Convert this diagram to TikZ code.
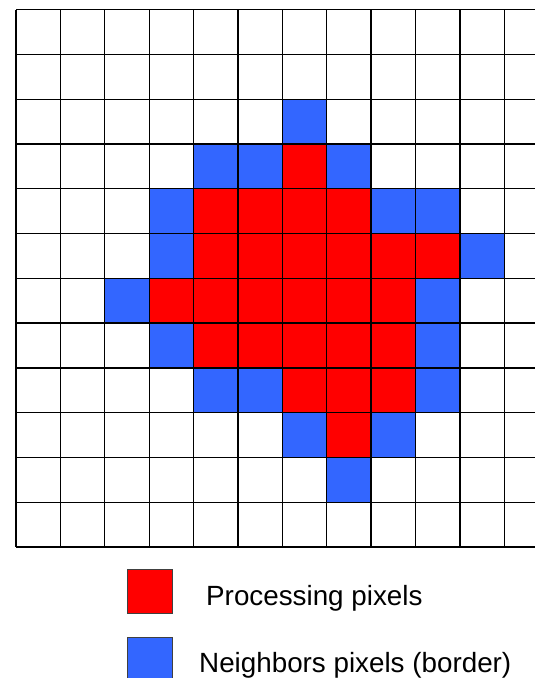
\documentclass[tikz,border=0pt]{standalone}
\usepackage{fontspec}
\setmainfont{Liberation Sans}
\definecolor{procred}{HTML}{FF0000}
\definecolor{nbblue}{HTML}{3366FF}
\begin{document}
\begin{tikzpicture}[x=1pt,y=-1pt,
  cellline/.style={draw=black,line width=1.3pt},
  proc/.style={fill=procred},
  nbr/.style={fill=nbblue},
  legbox/.style={draw=black!75,line width=1pt},
  legtext/.style={anchor=base west,inner sep=0pt,font=\fontsize{27.8}{30}\selectfont}]
\useasboundingbox (0,0) rectangle (535,678);
\fill[white] (0,0) rectangle (535,678);
\def\cw{44.39}
\def\ch{44.77}
\def\gx{16}
\def\gy{9.7}
% processing pixels (row, col list)
\foreach \r/\cols in {3/{6},4/{4,5,6,7},5/{4,5,6,7,8,9},6/{3,4,5,6,7,8},7/{4,5,6,7,8},8/{6,7,8},9/{7}}{
  \foreach \c in \cols {
    \fill[proc] ({\gx+\c*\cw},{\gy+\r*\ch}) rectangle ++(\cw,\ch);
  }
}
% neighbor pixels
\foreach \r/\cols in {2/{6},3/{4,5,7},4/{3,8,9},5/{3,10},6/{2,9},7/{3,9},8/{4,5,9},9/{6,8},10/{7}}{
  \foreach \c in \cols {
    \fill[nbr] ({\gx+\c*\cw},{\gy+\r*\ch}) rectangle ++(\cw,\ch);
  }
}
% grid lines
\foreach \k in {0,...,12}{
  \draw[cellline] ({\gx},{\gy+\k*\ch}) -- ({\gx+12*\cw},{\gy+\k*\ch});
  \draw[cellline] ({\gx+\k*\cw},{\gy}) -- ({\gx+\k*\cw},{\gy+12*\ch});
}
% legend
\node[legbox,proc,minimum width=45pt,minimum height=44pt,inner sep=0pt,anchor=north west] (lp) at (127,569) {};
\node[legbox,nbr,minimum width=45pt,minimum height=44pt,inner sep=0pt,anchor=north west] (ln) at (127,636.5) {};
\node[legtext] (tp) at (206,605) {Processing pixels};
\node[legtext] (tn) at (199,672) {Neighbors pixels (border)};
\end{tikzpicture}
\end{document}
